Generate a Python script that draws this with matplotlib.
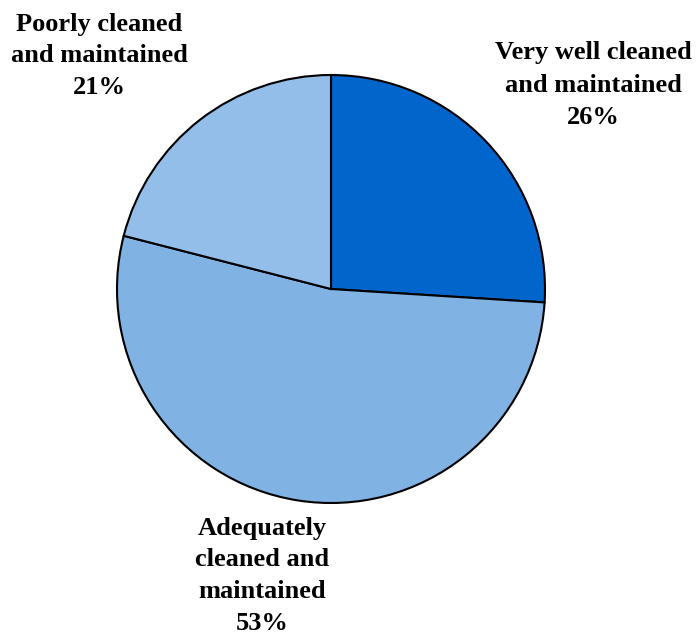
import matplotlib.pyplot as plt

# datos
labels = ['Very well cleaned\nand maintained', 'Adequately\ncleaned and\nmaintained',
          'Poorly cleaned\nand maintained']
valores = [26, 53, 21]
colores = ['#0066CC', '#80B2E4', '#94BEEA']

fig = plt.figure(figsize=(6.98, 6.38), dpi=100)
ax = fig.add_axes([0, 0, 1, 1])

ax.pie(valores, colors=colores, startangle=90, counterclock=False,
       center=(331, 349), radius=214,
       wedgeprops=dict(edgecolor='black', linewidth=1.5))

# pie() cambia los limites, se ponen despues
ax.set_xlim(0, 698)
ax.set_ylim(0, 638)
ax.set_aspect('equal')
ax.axis('off')

# posiciones de etiquetas
pos = [(593, 553), (262, 62), (99, 582)]
for lab, v, (x, y) in zip(labels, valores, pos):
    ax.text(x, y, f'{lab}\n{v}%', ha='center', va='center',
            fontsize=19, fontweight='bold', family='Liberation Serif',
            linespacing=1.5)

fig.savefig('out.png', dpi=100)
